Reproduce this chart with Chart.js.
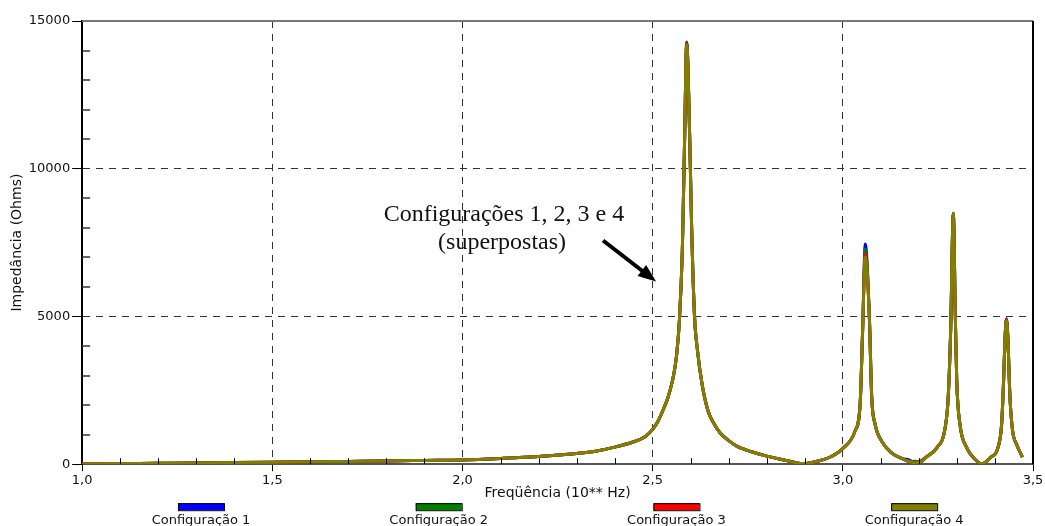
<!DOCTYPE html>
<html>
<head>
<meta charset="utf-8">
<script src="https://cdn.jsdelivr.net/npm/chart.js@4/dist/chart.umd.min.js"></script>
<style>
  html, body { margin: 0; padding: 0; background: #fff; }
  canvas { display: block; }
</style>
</head>
<body>
<canvas id="impedanciaChart" width="1045" height="526"></canvas>
<script>
// Frequência (10** Hz) - eixo x
const frequencia = [
    1.00, 1.10, 1.20, 1.30, 1.40, 1.50, 1.60, 1.70, 1.80, 1.90,
    2.00, 2.10, 2.20, 2.30, 2.35, 2.40, 2.45, 2.48, 2.50, 2.515,
    2.528, 2.540, 2.550, 2.557, 2.563, 2.570, 2.578, 2.584, 2.5895, 2.5975,
    2.6025, 2.6101, 2.618, 2.6298, 2.6456, 2.660, 2.677, 2.700, 2.721, 2.760,
    2.800, 2.852, 2.895, 2.940, 2.970, 3.000, 3.032, 3.0455, 3.052, 3.059,
    3.0697, 3.076, 3.085, 3.102, 3.128, 3.155, 3.175, 3.190, 3.205, 3.220,
    3.247, 3.269, 3.277, 3.2835, 3.2905, 3.2958, 3.2995, 3.308, 3.326, 3.348,
    3.365, 3.387, 3.409, 3.4175, 3.422, 3.427, 3.430, 3.4335, 3.4395, 3.4465,
    3.457, 3.472
];

// Impedância (Ohms) por configuração
const config1 = [
    10, 20, 30, 40, 55, 68, 80, 95, 110, 128,
    146, 195, 260, 363, 440, 577, 760, 930, 1178, 1480,
    1850, 2250, 2715, 3150, 3700, 4800, 7230, 11000, 14290, 11000,
    8000, 5000, 3835, 2715, 1800, 1400, 1063, 800, 611, 420,
    272, 125, 20, 125, 260, 530, 1120, 2036, 4514, 7456,
    5000, 2250, 1347, 780, 384, 193, 140, 50, 80, 250,
    553, 1232, 2250, 4514, 8495, 5000, 2817, 1347, 553, 158,
    10, 215, 611, 1347, 2600, 4400, 4920, 4400, 2250, 1120,
    668, 238
];
const config2 = [
    10, 20, 30, 40, 55, 68, 80, 95, 110, 128,
    146, 195, 260, 363, 440, 577, 760, 930, 1178, 1480,
    1850, 2250, 2715, 3150, 3700, 4800, 7230, 11000, 14260, 11000,
    8000, 5000, 3835, 2715, 1800, 1400, 1063, 800, 611, 420,
    272, 125, 20, 125, 260, 530, 1120, 2036, 4514, 7287,
    5000, 2250, 1347, 780, 384, 193, 90, 100, 80, 250,
    553, 1232, 2250, 4514, 8495, 5000, 2817, 1347, 553, 158,
    10, 215, 611, 1347, 2600, 4400, 4900, 4400, 2250, 1120,
    668, 238
];
const config3 = [
    10, 20, 30, 40, 55, 68, 80, 95, 110, 128,
    146, 195, 260, 363, 440, 577, 760, 930, 1178, 1480,
    1850, 2250, 2715, 3150, 3700, 4800, 7230, 11000, 14240, 11000,
    8000, 5000, 3835, 2715, 1800, 1400, 1063, 800, 611, 420,
    272, 125, 20, 125, 260, 530, 1120, 2036, 4514, 7117,
    5000, 2250, 1347, 780, 384, 193, 90, 50, 110, 250,
    553, 1232, 2250, 4514, 8495, 5000, 2817, 1347, 553, 158,
    10, 215, 611, 1347, 2600, 4400, 4890, 4400, 2250, 1120,
    668, 238
];
const config4 = [
    10, 20, 30, 40, 55, 68, 80, 95, 110, 128,
    146, 195, 260, 363, 440, 577, 760, 930, 1178, 1480,
    1850, 2250, 2715, 3150, 3700, 4800, 7230, 11000, 14200, 11000,
    8000, 5000, 3835, 2715, 1800, 1400, 1063, 800, 611, 420,
    272, 125, 20, 125, 260, 530, 1120, 2036, 4514, 7000,
    5000, 2250, 1347, 780, 384, 193, 90, 50, 80, 250,
    553, 1232, 2250, 4514, 8495, 5000, 2817, 1347, 553, 158,
    10, 215, 611, 1347, 2600, 4400, 4850, 4400, 2250, 1120,
    668, 238
];

const nomes = ['Configuração 1', 'Configuração 2', 'Configuração 3', 'Configuração 4'];
const cores = ['#0000ff', '#008000', '#ff0000', '#808000'];
const series = [config1, config2, config3, config4];

const xTicks = [1.0, 1.5, 2.0, 2.5, 3.0, 3.5];
const yTicks = [0, 5000, 10000, 15000];

const anotacao = ['Configurações 1, 2, 3 e 4', '(superpostas)'];

const SANS = '"DejaVu Sans", sans-serif';
const SERIF = '"Liberation Serif", "Times New Roman", serif';

// Desenha bordas, marcas menores, anotação e legenda
const extrasPlugin = {
    id: 'extras',
    afterDraw(chart) {
        const { ctx, chartArea: a, scales: { x, y } } = chart;
        ctx.save();

        // marcas menores no eixo x (para dentro)
        ctx.strokeStyle = '#000';
        ctx.lineWidth = 1;
        for (let i = 11; i < 35; i++) {
            if (i % 5 === 0) continue;
            const px = Math.round(x.getPixelForValue(i / 10)) + 0.5;
            ctx.beginPath();
            ctx.moveTo(px, a.bottom);
            ctx.lineTo(px, a.bottom - 6);
            ctx.stroke();
        }
        // marcas menores no eixo y (para dentro)
        ctx.strokeStyle = '#333';
        ctx.lineWidth = 1.5;
        for (let v = 1000; v < 15000; v += 1000) {
            if (v % 5000 === 0) continue;
            const py = Math.round(y.getPixelForValue(v));
            ctx.beginPath();
            ctx.moveTo(a.left, py);
            ctx.lineTo(a.left + 8, py);
            ctx.stroke();
        }

        // borda superior e direita
        ctx.lineWidth = 2;
        ctx.strokeStyle = '#777';
        ctx.beginPath();
        ctx.moveTo(a.left, a.top);
        ctx.lineTo(a.right, a.top);
        ctx.stroke();
        ctx.strokeStyle = '#000';
        ctx.beginPath();
        ctx.moveTo(a.right, a.top);
        ctx.lineTo(a.right, a.bottom);
        ctx.stroke();

        // anotação
        ctx.fillStyle = '#111';
        ctx.font = '24px ' + SERIF;
        ctx.textAlign = 'center';
        ctx.textBaseline = 'middle';
        ctx.fillText(anotacao[0], x.getPixelForValue(2.109), y.getPixelForValue(8450));
        ctx.fillText(anotacao[1], x.getPixelForValue(2.104), y.getPixelForValue(7500));

        // seta
        const x0 = x.getPixelForValue(2.3696), y0 = y.getPixelForValue(7570);
        const x1 = x.getPixelForValue(2.509), y1 = y.getPixelForValue(6180);
        const ang = Math.atan2(y1 - y0, x1 - x0);
        const head = 18;
        ctx.strokeStyle = '#000';
        ctx.lineWidth = 4;
        ctx.beginPath();
        ctx.moveTo(x0, y0);
        ctx.lineTo(x1 - head * 0.8 * Math.cos(ang), y1 - head * 0.8 * Math.sin(ang));
        ctx.stroke();
        ctx.fillStyle = '#000';
        ctx.beginPath();
        ctx.moveTo(x1, y1);
        ctx.lineTo(x1 - head * Math.cos(ang) + 7 * Math.sin(ang), y1 - head * Math.sin(ang) - 7 * Math.cos(ang));
        ctx.lineTo(x1 - head * Math.cos(ang) - 7 * Math.sin(ang), y1 - head * Math.sin(ang) + 7 * Math.cos(ang));
        ctx.closePath();
        ctx.fill();

        // legenda
        const slot = (a.right - a.left) / 4;
        ctx.font = '13px ' + SANS;
        ctx.textBaseline = 'middle';
        nomes.forEach((nome, i) => {
            const cx = a.left + slot * (i + 0.5);
            ctx.fillStyle = cores[i];
            ctx.fillRect(cx - 23, a.bottom + 39, 46, 7);
            ctx.strokeStyle = '#000';
            ctx.lineWidth = 1;
            ctx.strokeRect(cx - 23 + 0.5, a.bottom + 39 + 0.5, 46, 7);
            ctx.fillStyle = '#111';
            ctx.fillText(nome, cx, a.bottom + 56);
        });

        ctx.restore();
    }
};

const ctx = document.getElementById('impedanciaChart').getContext('2d');

const chart = new Chart(ctx, {
    type: 'line',
    data: {
        datasets: series.map((vals, i) => ({
            label: nomes[i],
            data: frequencia.map((f, k) => ({ x: f, y: vals[k] })),
            borderColor: cores[i],
            backgroundColor: cores[i],
            borderWidth: 3,
            pointRadius: 0,
            fill: false,
            cubicInterpolationMode: 'monotone',
            order: 4 - i
        }))
    },
    options: {
        responsive: false,
        animation: false,
        layout: { padding: { top: 21, right: 8, bottom: 21, left: 4 } },
        plugins: {
            legend: { display: false },
            tooltip: { enabled: false }
        },
        scales: {
            x: {
                type: 'linear',
                min: 1.0,
                max: 3.5,
                afterBuildTicks: (s) => { s.ticks = xTicks.map(v => ({ value: v })); },
                afterFit: (s) => { s.paddingRight = 12; },
                ticks: {
                    color: '#111',
                    font: { family: SANS, size: 13, lineHeight: 1 },
                    padding: 3,
                    maxRotation: 0,
                    callback: (v) => Number(v).toFixed(1).replace('.', ',')
                },
                grid: {
                    color: (c) => (c.tick && (c.tick.value === 1 || c.tick.value === 3.5)) ? 'rgba(0,0,0,0)' : '#333',
                    lineWidth: 1,
                    tickColor: '#000',
                    tickLength: 7
                },
                border: { color: '#555', width: 2, dash: [7, 6] },
                title: {
                    display: true,
                    text: 'Freqüência (10** Hz)',
                    color: '#111',
                    font: { family: SANS, size: 14 },
                    padding: { top: -5, bottom: 3 }
                }
            },
            y: {
                type: 'linear',
                min: 0,
                max: 15000,
                afterBuildTicks: (s) => { s.ticks = yTicks.map(v => ({ value: v })); },
                ticks: {
                    color: '#111',
                    font: { family: SANS, size: 13 },
                    padding: 2,
                    callback: (v) => String(v)
                },
                grid: {
                    color: (c) => (c.tick && (c.tick.value === 0 || c.tick.value === 15000)) ? 'rgba(0,0,0,0)' : '#333',
                    lineWidth: 1,
                    tickColor: '#000',
                    tickLength: 10
                },
                border: { color: '#000', width: 2, dash: [7, 6] },
                title: {
                    display: true,
                    text: 'Impedância (Ohms)',
                    color: '#111',
                    font: { family: SANS, size: 14 },
                    padding: { top: 5, bottom: 1 }
                }
            }
        }
    },
    plugins: [extrasPlugin]
});
</script>
</body>
</html>
